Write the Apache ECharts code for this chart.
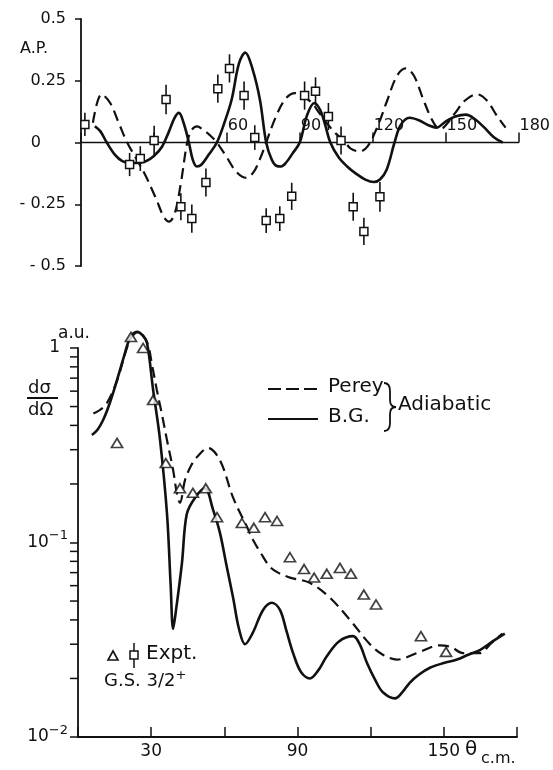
<!DOCTYPE html>
<html lang="en">
<head>
<meta charset="UTF-8">
<title>A.P. and cross section</title>
<style>
  html, body { margin: 0; padding: 0; background: #fff; }
  #chart { width: 553px; height: 770px; }
</style>
</head>
<body>
<div id="chart"></div>
<script src="https://cdn.jsdelivr.net/npm/echarts@6/dist/echarts.min.js"></script>
<script>
// ---- top panel: analysing power (deg, A.P.) ----
var apPerey = [[4.9,0.08],[8.5,0.195],[12,0.16],[15.5,0.08],[19,0],[23,-0.07],[26.7,-0.137],[31,-0.23],[34,-0.3],[36.2,-0.32],[38.5,-0.29],[41,-0.17],[43.7,0],[45.5,0.05],[47.7,0.065],[50.5,0.05],[53,0.03],[55.9,0],[60,-0.06],[64,-0.12],[68,-0.143],[71,-0.12],[73.5,-0.07],[76.2,0],[80,0.1],[84,0.175],[88,0.2],[91,0.19],[95,0.16],[98,0.12],[101.4,0.075],[105,0.035],[108,0.01],[111,-0.025],[114.8,-0.036],[118,-0.015],[121.8,0.06],[126,0.17],[130,0.27],[133.6,0.3],[137,0.27],[141,0.17],[144,0.1],[146.5,0.06],[148,0.055],[150.5,0.075],[154,0.12],[158,0.17],[163,0.195],[167,0.17],[171,0.11],[174.7,0.06]];
var apBG = [[5.7,0.066],[8,0.045],[10.6,0],[14,-0.05],[17,-0.075],[20,-0.082],[23,-0.083],[26.7,-0.076],[30,-0.055],[33.4,-0.016],[36,0.04],[38.5,0.1],[40.3,0.12],[42.2,0.08],[44.4,0],[46,-0.07],[47.7,-0.097],[49.5,-0.09],[52.5,-0.05],[55.9,0],[59,0.08],[62,0.174],[65,0.32],[67.6,0.364],[70.5,0.3],[73.6,0.174],[76.2,0],[78.5,-0.07],[80.5,-0.095],[82.3,-0.097],[84.5,-0.08],[87,-0.045],[90,0],[93,0.11],[96,0.16],[98.5,0.13],[100.5,0.07],[102.6,0],[106,-0.06],[109.5,-0.097],[113,-0.125],[117,-0.15],[120.5,-0.16],[123,-0.15],[125.8,-0.109],[129,0],[131.5,0.07],[135.2,0.1],[139,0.09],[143,0.07],[146.2,0.06],[150,0.085],[154,0.105],[158.4,0.113],[162,0.095],[166,0.06],[170,0.02],[173.5,0]];
// measured points: angle, A.P., error
var apExpt = [[1.6,0.073,0.047],[20,-0.089,0.047],[24.4,-0.065,0.05],[30.1,0.008,0.06],[35,0.174,0.06],[41.1,-0.26,0.055],[45.6,-0.308,0.057],[51.4,-0.162,0.057],[56.3,0.218,0.057],[61.1,0.3,0.057],[67.1,0.19,0.057],[71.5,0.02,0.05],[76.2,-0.316,0.05],[81.8,-0.308,0.05],[86.7,-0.218,0.055],[92,0.19,0.057],[96.5,0.207,0.057],[101.8,0.105,0.055],[107,0.008,0.057],[112,-0.26,0.057],[116.4,-0.36,0.055],[123,-0.22,0.06]];

// ---- bottom panel: d sigma / d Omega (deg, a.u.) ----
var xsPerey = [[6.3,0.46],[9,0.48],[11.8,0.52],[16,0.68],[21.3,1.1],[24.7,1.21],[28.3,1.07],[30.5,0.8],[32.3,0.61],[34.5,0.45],[36.4,0.34],[39,0.236],[40.5,0.18],[41.8,0.16],[43.9,0.21],[46.5,0.25],[48.8,0.275],[53.3,0.306],[58.2,0.265],[63.6,0.17],[69.3,0.12],[71.8,0.103],[75,0.088],[78.7,0.075],[82,0.07],[86.9,0.066],[95,0.062],[103.3,0.052],[111.5,0.04],[119.7,0.03],[125,0.0265],[130.8,0.025],[139,0.027],[148.4,0.0296],[153,0.029],[157.8,0.027],[164.8,0.027],[169,0.03],[174,0.034]];
var xsBG = [[5.7,0.357],[8,0.38],[10.3,0.426],[13,0.52],[16,0.684],[18.8,0.9],[21.3,1.12],[24.2,1.21],[26.5,1.16],[28.3,1.06],[30.8,0.61],[33.6,0.34],[36.5,0.14],[38,0.06],[39,0.036],[40.2,0.045],[42.6,0.078],[44.6,0.14],[48,0.17],[52,0.19],[55.4,0.147],[58.2,0.112],[61,0.075],[63.6,0.052],[66,0.036],[68.5,0.03],[71.5,0.034],[75.9,0.045],[79.5,0.049],[82.8,0.045],[85.5,0.035],[88.2,0.027],[91.5,0.0215],[95.1,0.02],[98.5,0.022],[102,0.026],[107,0.031],[112.8,0.033],[115.5,0.03],[118.5,0.024],[122,0.0195],[125,0.017],[130,0.0158],[133,0.017],[136,0.019],[140,0.021],[144.3,0.0227],[150,0.024],[155.4,0.025],[160,0.0265],[164.8,0.028],[170,0.031],[175,0.034]];
var xsExpt = [[16,0.325],[21.7,1.14],[26.7,1.0],[30.8,0.54],[36,0.256],[41.8,0.19],[47.1,0.18],[52.4,0.19],[57,0.135],[67.2,0.126],[72.1,0.119],[76.7,0.135],[81.6,0.129],[86.9,0.084],[92.7,0.073],[96.8,0.066],[102,0.069],[107.4,0.074],[111.9,0.069],[117.2,0.054],[122.2,0.048],[140.6,0.033],[150.9,0.0274]];
var minorTicks = [0.02,0.03,0.04,0.05,0.06,0.07,0.08,0.09,0.2,0.3,0.4,0.5,0.6,0.7,0.8,0.9];

var FONT = '"DejaVu Sans", sans-serif';
var BLK = '#111';

var chart = echarts.init(document.getElementById('chart'));

function seg(x1, y1, x2, y2) {
  return { type: 'line', shape: { x1: x1, y1: y1, x2: x2, y2: y2 }, style: { stroke: BLK, lineWidth: 1.8 } };
}
function curve(x1, y1, cx, cy, x2, y2) {
  return { type: 'bezierCurve', shape: { x1: x1, y1: y1, cpx1: cx, cpy1: cy, x2: x2, y2: y2 }, style: { stroke: BLK, lineWidth: 1.8, fill: null } };
}

var option = {
  animation: false,
  backgroundColor: '#fff',
  textStyle: { fontFamily: FONT, color: BLK },
  grid: [
    { left: 81, top: 19, width: 442, height: 247 },
    { left: 78, top: 348, width: 439, height: 389 }
  ],
  xAxis: [
    {
      // drawn along A.P. = 0 (half the grid height up)
      gridIndex: 0, type: 'value', min: 0, max: 180, interval: 30,
      offset: -123.5,
      axisLine: { onZero: false, lineStyle: { color: BLK, width: 1.4 } },
      axisTick: { inside: true, length: 10, lineStyle: { color: BLK, width: 1.5 } },
      axisLabel: {
        inside: true, margin: 9, align: 'left', verticalAlign: 'bottom',
        padding: [0, 0, 0, 1], fontSize: 16, color: BLK, fontFamily: FONT,
        showMinLabel: true, showMaxLabel: true,
        formatter: function (v) { return v >= 60 ? String(v) : ''; }
      },
      splitLine: { show: false }
    },
    {
      gridIndex: 1, type: 'value', min: 0, max: 180, interval: 30,
      axisLine: { onZero: false, lineStyle: { color: BLK, width: 1.8 } },
      axisTick: { inside: true, length: 10, lineStyle: { color: BLK, width: 1.5 } },
      axisLabel: {
        margin: 6, fontSize: 17, color: BLK, fontFamily: FONT,
        formatter: function (v) { return v % 60 === 30 ? String(v) : ''; }
      },
      splitLine: { show: false }
    }
  ],
  yAxis: [
    {
      gridIndex: 0, type: 'value', min: -0.5, max: 0.5, interval: 0.25,
      axisLine: { show: true, onZero: false, lineStyle: { color: BLK, width: 1.8 } },
      axisTick: { length: 6, lineStyle: { color: BLK, width: 1.5 } },
      axisLabel: {
        margin: 15, fontSize: 16, color: BLK, fontFamily: FONT,
        formatter: function (v) {
          if (Math.abs(v) < 1e-9) return '{z|0}';
          return v < 0 ? '- ' + String(-v) : String(v);
        },
        rich: { z: { fontSize: 16, fontFamily: FONT, padding: [0, 25, 0, 0] } }
      },
      splitLine: { show: false }
    },
    {
      gridIndex: 1, type: 'log', logBase: 10, min: 0.01, max: 1,
      axisLine: { show: true, onZero: false, lineStyle: { color: BLK, width: 1.8 } },
      axisTick: { length: 8, lineStyle: { color: BLK, width: 1.5 } },
      axisLabel: {
        margin: 10, fontSize: 17, lineHeight: 26, color: BLK, fontFamily: FONT,
        formatter: function (v) {
          var p = Math.round(Math.log10(v));
          return p === 0 ? '{o|1}' : '10{s|' + (p < 0 ? '\u2212' : '') + Math.abs(p) + '}';
        },
        rich: {
          s: { fontSize: 13, lineHeight: 13, verticalAlign: 'top', fontFamily: FONT, color: BLK },
          o: { fontSize: 17, fontFamily: FONT, color: BLK, padding: [0, 8, 0, 0] }
        }
      },
      splitLine: { show: false }
    }
  ],
  graphic: [
    { type: 'text', left: 20, top: 41, style: { text: 'A.P.', font: '16px ' + FONT, fill: BLK } },
    { type: 'text', left: 58, top: 325, style: { text: 'a.u.', font: '17px ' + FONT, fill: BLK } },
    { type: 'text', left: 28, top: 379, style: { text: 'd\u03c3', font: '18px ' + FONT, fill: BLK } },
    { type: 'line', shape: { x1: 27, y1: 398, x2: 58, y2: 398 }, style: { stroke: BLK, lineWidth: 2 } },
    { type: 'text', left: 28, top: 401, style: { text: 'd\u03a9', font: '18px ' + FONT, fill: BLK } },
    // legend
    { type: 'line', shape: { x1: 268, y1: 389, x2: 318, y2: 389 }, style: { stroke: BLK, lineWidth: 2, lineDash: [13, 5] } },
    { type: 'text', left: 328, top: 377, style: { text: 'Perey', font: '20px ' + FONT, fill: BLK } },
    { type: 'line', shape: { x1: 268, y1: 419, x2: 318, y2: 419 }, style: { stroke: BLK, lineWidth: 2.2 } },
    { type: 'text', left: 328, top: 407, style: { text: 'B.G.', font: '20px ' + FONT, fill: BLK } },
    // brace
    curve(384, 383, 390, 383, 390, 391),
    seg(390, 391, 390, 400),
    curve(390, 400, 390, 407, 396, 407),
    curve(396, 407, 390, 407, 390, 414),
    seg(390, 414, 390, 423),
    curve(390, 423, 390, 431, 384, 431),
    { type: 'text', left: 398, top: 395, style: { text: 'Adiabatic', font: '20px ' + FONT, fill: BLK } },
    // experiment key
    { type: 'polygon', shape: { points: [[108, 660], [118, 660], [113, 651]] }, style: { fill: '#fff', stroke: BLK, lineWidth: 1.6 } },
    { type: 'line', shape: { x1: 134, y1: 643, x2: 134, y2: 668 }, style: { stroke: BLK, lineWidth: 1.5 } },
    { type: 'rect', shape: { x: 130, y: 651, width: 8, height: 8 }, style: { fill: '#fff', stroke: BLK, lineWidth: 1.5 } },
    { type: 'text', left: 146, top: 644, style: { text: 'Expt.', font: '20px ' + FONT, fill: BLK } },
    {
      type: 'text', left: 104, top: 669,
      style: {
        text: 'G.S. 3/2{s|+}', font: '18px ' + FONT, fill: BLK, lineHeight: 24,
        rich: { s: { fontSize: 13, lineHeight: 13, verticalAlign: 'top', fontFamily: FONT, fill: BLK } }
      }
    },
    { type: 'text', left: 465, top: 740, style: { text: '\u03b8', font: '20px ' + FONT, fill: BLK } },
    { type: 'text', left: 481, top: 751, style: { text: 'c.m.', font: '16px ' + FONT, fill: BLK } }
  ],
  series: [
    {
      name: 'Perey', type: 'line', xAxisIndex: 0, yAxisIndex: 0, data: apPerey,
      smooth: 0.35, showSymbol: false, symbol: 'none',
      lineStyle: { color: BLK, width: 2.2, type: [11, 6] }
    },
    {
      name: 'B.G.', type: 'line', xAxisIndex: 0, yAxisIndex: 0, data: apBG,
      smooth: 0.35, showSymbol: false, symbol: 'none',
      lineStyle: { color: BLK, width: 2.6 }
    },
    {
      name: 'Expt. A.P.', type: 'custom', xAxisIndex: 0, yAxisIndex: 0, data: apExpt,
      encode: { x: 0, y: 1 }, z: 5,
      renderItem: function (params, api) {
        var x = api.value(0), y = api.value(1), e = api.value(2);
        var c = api.coord([x, y]);
        var hi = api.coord([x, y + e]);
        var lo = api.coord([x, y - e]);
        return {
          type: 'group',
          children: [
            { type: 'line', shape: { x1: c[0], y1: hi[1], x2: c[0], y2: lo[1] }, style: { stroke: BLK, lineWidth: 1.6 } },
            { type: 'rect', shape: { x: c[0] - 4, y: c[1] - 4, width: 8, height: 8 }, style: { fill: '#fff', stroke: BLK, lineWidth: 1.5 } }
          ]
        };
      }
    },
    {
      name: 'Perey xs', type: 'line', xAxisIndex: 1, yAxisIndex: 1, data: xsPerey,
      smooth: 0.35, showSymbol: false, symbol: 'none', clip: false,
      lineStyle: { color: BLK, width: 2.2, type: [11, 6] }
    },
    {
      name: 'B.G. xs', type: 'line', xAxisIndex: 1, yAxisIndex: 1, data: xsBG,
      smooth: 0.35, showSymbol: false, symbol: 'none', clip: false,
      lineStyle: { color: BLK, width: 2.6 }
    },
    {
      name: 'Expt. xs', type: 'scatter', xAxisIndex: 1, yAxisIndex: 1, data: xsExpt,
      symbol: 'triangle', symbolSize: [11, 9], clip: false, z: 5,
      itemStyle: { color: '#fff', borderColor: BLK, borderWidth: 1.7 }
    },
    {
      name: 'minor ticks', type: 'custom', xAxisIndex: 1, yAxisIndex: 1,
      data: minorTicks.map(function (v) { return [0, v]; }),
      encode: { x: 0, y: 1 }, clip: false, silent: true,
      renderItem: function (params, api) {
        var p = api.coord([api.value(0), api.value(1)]);
        return { type: 'line', shape: { x1: p[0] - 8, y1: p[1], x2: p[0], y2: p[1] }, style: { stroke: BLK, lineWidth: 1.5 } };
      }
    }
  ]
};

chart.setOption(option);
</script>
</body>
</html>
